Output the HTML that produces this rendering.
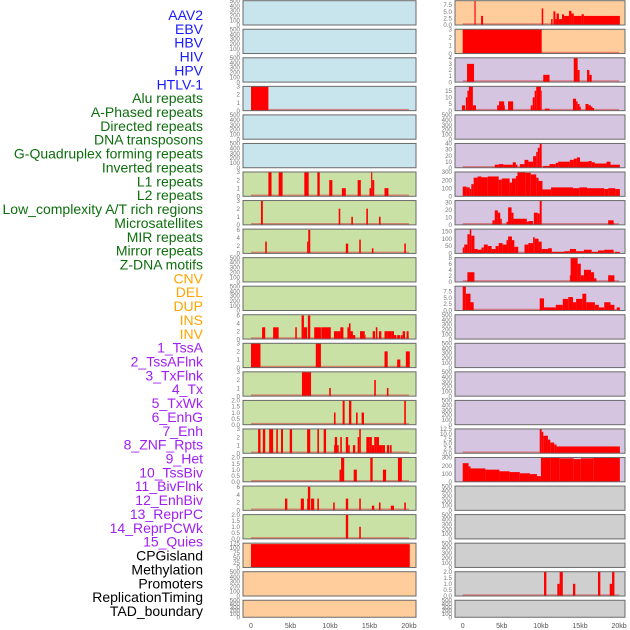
<!DOCTYPE html>
<html><head><meta charset="utf-8">
<style>
html,body{margin:0;padding:0;background:#fff;}
svg{display:block;font-family:"Liberation Sans",sans-serif;}
</style></head>
<body>
<svg id="chart" width="630" height="630" viewBox="0 0 630 630" xmlns="http://www.w3.org/2000/svg"></svg>
<script>
// ---- track labels ----
const trackLabels = ["AAV2","EBV","HBV","HIV","HPV","HTLV-1","Alu repeats","A-Phased repeats","Directed repeats","DNA transposons","G-Quadruplex forming repeats","Inverted repeats","L1 repeats","L2 repeats","Low_complexity A/T rich regions","Microsatellites","MIR repeats","Mirror repeats","Z-DNA motifs","CNV","DEL","DUP","INS","INV","1_TssA","2_TssAFlnk","3_TxFlnk","4_Tx","5_TxWk","6_EnhG","7_Enh","8_ZNF_Rpts","9_Het","10_TssBiv","11_BivFlnk","12_EnhBiv","13_ReprPC","14_ReprPCWk","15_Quies","CPGisland","Methylation","Promoters","ReplicationTiming","TAD_boundary"];
const labelGroups = ["virus","virus","virus","virus","virus","virus","rep","rep","rep","rep","rep","rep","rep","rep","rep","rep","rep","rep","rep","sv","sv","sv","sv","sv","chr","chr","chr","chr","chr","chr","chr","chr","chr","chr","chr","chr","chr","chr","chr","oth","oth","oth","oth","oth"];
const xTickLabels = ["0","5kb","10kb","15kb","20kb"];
const xTickValues = [0,5,10,15,20];

// ---- tick sets ----
const ticks500 = [0,100,200,300,400,500];
const ticks3 = [0,1,2,3];
const ticks6 = [0,2,4,6];
const ticks2 = [0,0.5,1,1.5,2];
const ticks125 = [0,25,50,75,100,125];
const ticks75 = [0,2.5,5,7.5];
const ticks4 = [0,1,2,3,4];
const ticks15 = [0,5,10,15];
const ticks40 = [0,10,20,30,40];
const ticks300 = [0,100,200,300];
const ticks30 = [0,10,20,30];
const ticks150 = [0,50,100,150];
const ticks8 = [0,2,4,6,8];
const ticks125b = [0,2.5,5,7.5,10,12.5];

// ---- bar data: [startKb, endKb, value] ----
const L4_bars = [[0,2.2,3]];
const L7_bars = [[2.2,2.6,3],[3.5,4.0,3],[6.75,7.3,3],[8.4,8.7,3],[9.9,10.3,2],[11.5,12,1],[13.5,13.9,2],[15,15.2,1],[15.2,15.35,3],[15.35,15.6,2],[16.9,17.4,1]];
const L8_bars = [[1.26,1.5,3],[11.1,11.3,2],[12.7,12.9,1],[14.6,14.8,2],[16.2,16.4,1]];
const L9_bars = [[1.8,2.0,3],[7.1,7.25,3],[7.25,7.5,6],[12.0,12.3,2.5],[13.7,13.9,3.5],[15.3,15.5,1.3],[19.4,19.6,2.5]];
const L12_bars = [[1.4,1.8,3],[2.8,3.5,3],[5.6,5.8,3],[6.4,6.7,6],[6.7,7.1,3],[7.2,7.5,6],[8.0,8.85,3],[8.9,10.1,3],[10.5,10.9,2],[10.9,11.3,2],[11.3,11.7,3],[12.2,12.4,3],[12.4,12.6,4],[12.6,12.9,2],[12.9,13.2,1],[13.8,14.4,2],[14.4,14.5,1],[15.4,15.7,2],[15.8,16,3],[16.2,16.5,2],[16.9,17.3,2],[17.3,17.8,2],[17.8,18.1,2],[18.1,18.4,1],[18.5,18.9,1],[19.0,19.2,1],[19.2,19.5,2],[19.7,19.95,2]];
const L13_bars = [[0,1.2,3],[8.2,8.85,3],[16.9,17.3,2],[18.5,18.9,1],[19.6,20.1,2]];
const L14_bars = [[6.45,7.6,3],[9.9,10.1,1],[15.6,15.8,2],[17.2,17.4,1]];
const L15_bars = [[10.5,10.7,1],[11.6,11.85,2],[12.4,12.7,2],[13.3,13.5,1],[14.0,14.3,1],[19.4,19.6,2]];
const L16_bars = [[0.9,1.2,3],[1.5,1.8,3],[2.3,2.8,3],[3.2,3.4,3],[3.8,4.05,3],[4.9,5.2,3],[7.1,7.5,3],[8.4,8.6,3],[9.2,9.5,3],[10.5,10.6,1],[10.6,10.9,2],[10.9,11.1,1],[11.3,11.5,2],[12,12.3,2],[12.3,12.5,1],[12.9,13.2,1],[13.5,13.7,2],[13.7,13.9,3],[14.6,14.95,2],[14.95,15.3,2],[15.3,15.6,1],[15.6,15.9,2],[15.9,16.2,2],[16.2,16.6,1],[16.6,16.96,1],[17.2,17.5,1],[17.6,17.8,1]];
const L17_bars = [[11.2,11.4,1],[11.4,11.8,2],[13.0,13.4,1],[15.1,15.4,2],[16.7,17.1,1],[18.6,19.1,2]];
const L18_bars = [[4.3,4.6,3],[6.3,6.7,3],[7.1,7.2,3],[7.2,7.5,6],[7.6,8.0,3],[8.4,8.6,3],[10.4,10.6,2],[12,12.3,3],[13.7,13.9,3],[15.3,15.6,1.2],[16.2,16.4,2],[17.7,18.1,1.2],[19.4,19.6,2]];
const L19_bars = [[12,12.3,2],[13.7,13.9,1]];
const L20_bars = [[0,20.1,120]];
const R1_bars = [[1.5,1.65,9],[2.35,2.6,3.4],[10.1,10.3,6.2],[11.3,11.5,2.2],[11.6,11.85,5.1],[11.85,12.0,2.2],[12.0,12.3,4.3],[12.3,12.7,2.2],[12.7,12.95,4],[12.95,13.6,3.4],[13.6,13.9,5.3],[13.9,14.2,4.3],[14.2,15.2,3.4],[15.2,15.5,4],[15.5,20.1,3.4]];
const R2_bars = [[0,10.1,3]];
const R3_bars = [[0.55,1.45,3],[10.3,11.1,1.2],[14.2,14.7,4],[14.7,14.95,2],[15.9,16.2,2],[16.2,16.5,1.2]];
const R4_bars = [[-0.1,0.3,4],[0.4,0.6,10],[0.6,0.8,15],[0.8,1.3,18.3],[1.3,1.7,4],[4.4,4.65,4],[4.65,5.3,7],[5.3,5.4,4],[5.8,6.45,7],[8.7,8.95,4],[8.95,9.2,10],[9.2,9.4,15],[9.4,10.0,18.3],[10,10.1,15],[10.5,11.1,1.5],[14.1,14.5,9],[14.5,14.7,7],[14.7,14.95,5],[14.95,15.1,3],[15.7,16.1,5],[16.1,16.4,4],[16.4,16.6,3],[16.6,16.8,2]];
const R6_bars = [[4.1,4.6,5],[4.6,5.2,6],[5.2,6.4,5],[6.4,6.8,9],[6.8,7.0,5],[7.3,7.9,6],[7.9,8.4,13],[8.4,9.0,10],[9.0,9.4,19],[9.4,9.6,26],[9.6,9.85,33],[9.85,10.1,40],[10.3,11.1,3],[11.1,11.9,6],[11.9,12.2,8],[12.2,13.7,10],[13.7,14.2,13],[14.2,14.6,15],[14.6,15,17],[15,16.1,10],[16.1,16.5,11],[16.5,16.9,9],[16.9,18.4,7],[18.4,18.9,10],[18.9,20.1,5]];
const R7_bars = [[0,0.5,120],[0.5,0.9,110],[0.9,1.1,90],[1.1,1.4,150],[1.4,1.9,230],[1.9,2.4,245],[2.4,3.2,235],[3.2,4.6,245],[4.6,5.0,205],[5.0,6.0,220],[6.0,6.3,170],[6.3,6.8,220],[6.8,7.0,250],[7.0,8.0,300],[8.0,8.7,290],[8.7,9.4,270],[9.4,9.7,230],[9.7,10.2,190],[10.2,11.3,85],[11.3,14.1,110],[14.1,14.9,100],[14.9,15.9,110],[15.9,18.1,100],[18.1,18.6,90],[18.6,19.5,100],[19.5,20.1,90]];
const R8_bars = [[3.8,4.1,6],[4.1,4.5,19],[4.5,4.8,16],[4.8,5.0,8],[5.6,5.8,4],[5.8,6.25,23],[6.25,6.5,16],[6.5,8.2,8],[8.2,8.4,4],[8.4,9.0,5],[9.1,9.6,16],[9.6,9.85,15],[9.85,10.1,32],[18.6,19.3,6],[19.3,19.4,2]];
const R9_bars = [[0,0.2,40],[0.2,0.6,60],[0.6,0.9,130],[0.9,1.1,165],[1.1,1.5,120],[1.5,1.9,30],[1.9,2.4,25],[2.4,2.7,40],[2.7,3.2,60],[3.2,3.7,50],[3.7,4.2,30],[4.2,4.6,50],[4.6,5.1,70],[5.1,5.6,60],[5.6,5.8,90],[5.8,6.3,115],[6.3,6.6,90],[6.6,7.1,45],[7.9,8.4,60],[8.4,9.0,70],[9.0,9.2,110],[9.2,9.7,100],[9.7,10.1,80],[10.1,10.9,30],[10.9,11.4,35],[11.4,13,10],[13,13.7,15],[13.7,14.5,30],[14.5,15.5,15],[15.5,16.5,25],[16.5,17.3,10],[17.3,18.1,20],[18.1,19.3,25],[19.5,20.1,10]];
const R10_bars = [[0.6,1.5,3.2],[13.7,13.8,2.2],[13.8,14.7,8],[14.7,15.1,6],[15.1,15.5,2.2],[15.5,16.4,4],[16.4,16.8,3.2],[16.8,17.1,1.2],[18.6,19.4,2.2]];
const R11_bars = [[0,0.4,9.4],[0.4,1.0,6.5],[1.0,1.4,3.2],[9.85,10.4,4.7],[10.4,11.9,1.2],[11.9,12.8,2.2],[12.8,13.5,4.5],[13.5,14.1,5.2],[14.1,14.5,3.2],[14.5,15.3,4.5],[15.3,15.8,6.5],[15.8,16.9,3.2],[16.9,17.4,2.2],[17.4,18.1,1.2],[18.1,18.9,3.2],[18.9,19.4,2.2],[19.7,20.1,1.2]];
const R16_bars = [[9.85,10.1,12.5],[10.1,10.3,11],[10.3,10.9,9],[10.9,11.2,7],[11.2,11.7,5.5],[11.7,12.0,4.5],[12.0,20.1,3.5]];
const R17_bars = [[0,0.75,230],[0.75,1.0,190],[1.0,2.9,165],[2.9,4.7,150],[4.7,6.0,130],[6.0,7.3,120],[7.3,8.6,105],[8.6,9.5,95],[9.5,10,70],[10,11.2,300],[11.2,12.4,295],[12.4,14.2,290],[14.2,15.1,280],[15.1,16.7,290],[16.7,20.1,300]];
const R21_bars = [[10.4,10.7,2],[12.1,12.4,1],[12.4,12.8,2],[14.1,14.4,1],[17.3,17.6,2],[18.8,19.1,1],[19.1,19.4,2]];

const colors = {blue:"#c8e4ec",green:"#c9e1a5",orange:"#ffcd9c",purple:"#d5c5e1",gray:"#cfcfcf"};
// [column, row, colorKey, yMax, ticks, bars]
const panels = [
 [0,0,"blue",500,ticks500,null],[0,1,"blue",500,ticks500,null],[0,2,"blue",500,ticks500,null],
 [0,3,"blue",3,ticks3,L4_bars],[0,4,"blue",500,ticks500,null],[0,5,"blue",500,ticks500,null],
 [0,6,"green",3,ticks3,L7_bars],[0,7,"green",3,ticks3,L8_bars],[0,8,"green",6.2,ticks6,L9_bars],
 [0,9,"green",500,ticks500,null],[0,10,"green",500,ticks500,null],[0,11,"green",6.2,ticks6,L12_bars],
 [0,12,"green",3,ticks3,L13_bars],[0,13,"green",3,ticks3,L14_bars],[0,14,"green",2,ticks2,L15_bars],
 [0,15,"green",3,ticks3,L16_bars],[0,16,"green",2,ticks2,L17_bars],[0,17,"green",6.2,ticks6,L18_bars],
 [0,18,"green",2,ticks2,L19_bars],[0,19,"orange",125,ticks125,L20_bars],[0,20,"orange",500,ticks500,null],
 [0,21,"orange",500,ticks500,null],
 [1,0,"orange",9.1,ticks75,R1_bars],[1,1,"orange",3,ticks3,R2_bars],[1,2,"purple",4,ticks4,R3_bars],
 [1,3,"purple",18.3,ticks15,R4_bars],[1,4,"purple",500,ticks500,null],[1,5,"purple",40,ticks40,R6_bars],
 [1,6,"purple",300,ticks300,R7_bars],[1,7,"purple",32,ticks30,R8_bars],[1,8,"purple",165,ticks150,R9_bars],
 [1,9,"purple",8,ticks8,R10_bars],[1,10,"purple",9.4,ticks75,R11_bars],[1,11,"purple",500,ticks500,null],
 [1,12,"purple",500,ticks500,null],[1,13,"purple",500,ticks500,null],[1,14,"purple",500,ticks500,null],
 [1,15,"purple",12.5,ticks125b,R16_bars],[1,16,"purple",300,ticks300,R17_bars],[1,17,"gray",500,ticks500,null],
 [1,18,"gray",500,ticks500,null],[1,19,"gray",500,ticks500,null],[1,20,"gray",2,ticks2,R21_bars],
 [1,21,"gray",500,ticks500,null]
];

const NS = "http://www.w3.org/2000/svg";
const svg = document.getElementById("chart");
function mk(tag, attrs, parent){
  const e = document.createElementNS(NS, tag);
  for (const k in attrs) e.setAttribute(k, attrs[k]);
  (parent||svg).appendChild(e);
  return e;
}
const cols = [
  {left:243, right:416, x0:251, ppk:7.9, tickX:240},
  {left:455, right:625, x0:462.7, ppk:7.82, tickX:452}
];
function xScale(c, kb){ return cols[c].x0 + kb*cols[c].ppk; }
function panelTop(r){ return 0.7 + 28.55*r; }
function panelH(r){ return r===21 ? 17 : 24.3; }
function fmt(t, ticks){
  const dec = ticks.some(v => v % 1 !== 0);
  return dec ? t.toFixed(1) : String(t);
}

// labels
const labelColors = {virus:"#1a1aff",rep:"#0e6e0e",sv:"#ffa500",chr:"#a020f0",oth:"#000000"};
trackLabels.forEach((lab, i) => {
  const t = mk("text", {x:203, y:15 + 13.86*i + 5, "text-anchor":"end", "font-size":"14", fill:labelColors[labelGroups[i]]});
  
  
  t.textContent = lab;
});

// panels
panels.forEach((p, idx) => {
  const [c, r, ck, ymax, ticks, bars] = p;
  const top = panelTop(r), h = panelH(r), bot = top + h;
  const L = cols[c].left, R = cols[c].right;
  const g = mk("g", {});
  
  
  const bg = mk("rect", {x:L, y:top, width:R-L, height:h, fill:colors[ck]}, g);
  
  
  const cid = "clip" + idx;
  const cp = mk("clipPath", {id:cid}, g);
  mk("rect", {x:L, y:top, width:R-L, height:h}, cp);
  const yS = v => bot - (v/ymax)*h;
  if (bars) {
    const bl = mk("line", {x1:xScale(c,0), x2:xScale(c,20), y1:bot-1, y2:bot-1, stroke:"rgba(220,60,60,0.55)", "stroke-width":"1.6"}, g);
    
    
    const bg2 = mk("g", {"clip-path":"url(#"+cid+")"}, g);
    bars.forEach(b => {
      const x1 = xScale(c, b[0]), x2 = xScale(c, b[1]);
      const y = Math.max(top, yS(b[2]));
      const rect = mk("rect", {x:x1, y:y, width:Math.max(0.8, x2-x1), height:bot-y, fill:"#ff0000"}, bg2);
      
      
    });
  }
  const fr = mk("rect", {x:L, y:top, width:R-L, height:h, fill:"none", stroke:"#6a6a6a", "stroke-width":"1"}, g);
  
  
  ticks.forEach(t => {
    const tt = mk("text", {x:cols[c].tickX, y:yS(t)+2.2, "text-anchor":"end", "font-size":"6.2", fill:"#777"}, g);
    
    
    tt.textContent = fmt(t, ticks);
  });
});

// x axis
[0,1].forEach(c => {
  xTickValues.forEach((v, i) => {
    const t = mk("text", {x:xScale(c, v), y:628, "text-anchor":"middle", "font-size":"7", fill:"#555"});
    
    
    t.textContent = xTickLabels[i];
  });
});
</script>
</body></html>
